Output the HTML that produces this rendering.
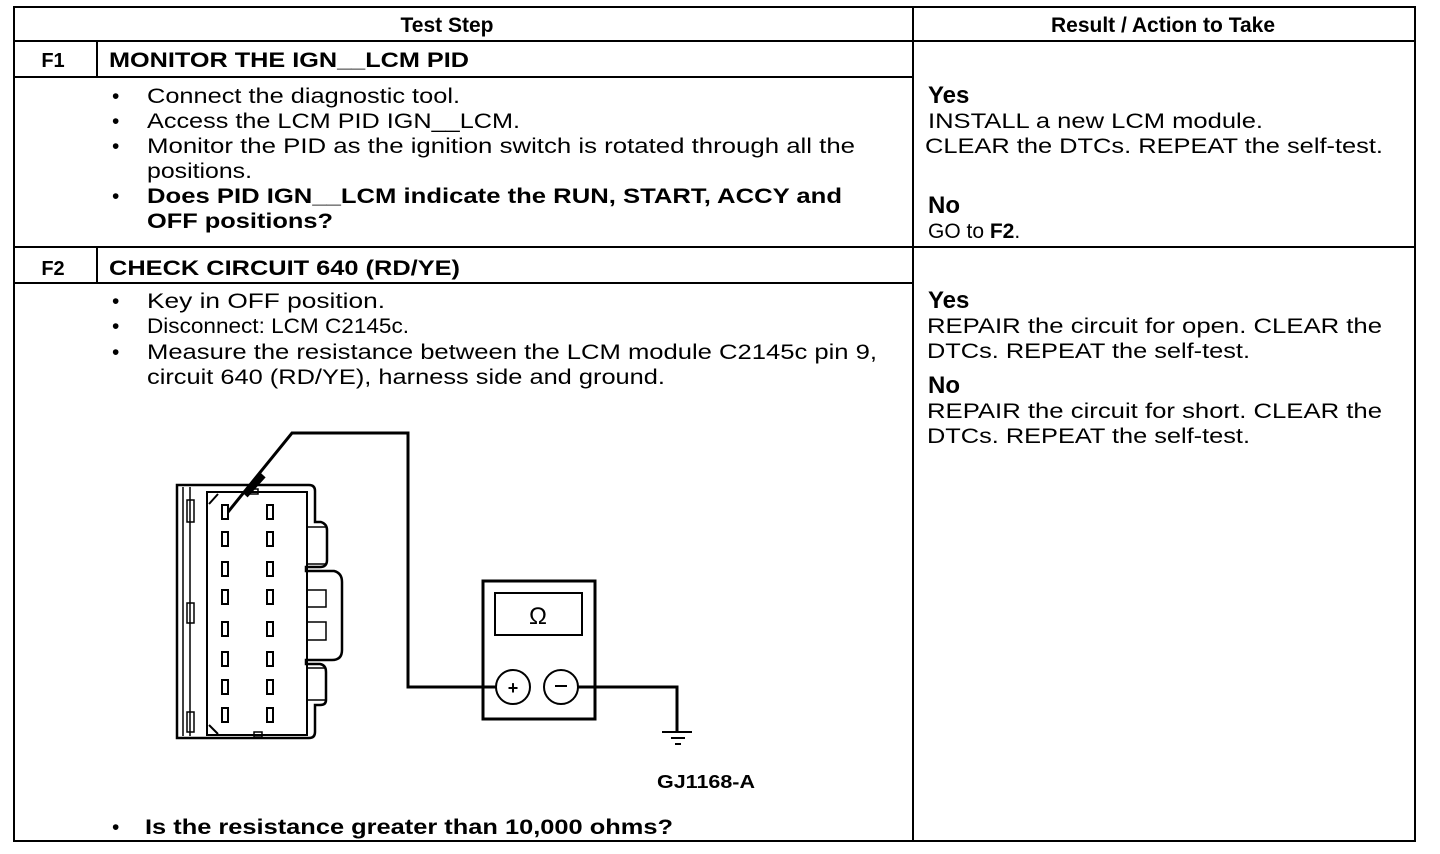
<!DOCTYPE html>
<html><head><meta charset="utf-8"><style>
html,body{margin:0;padding:0;background:#fff;}
svg{display:block;}
text{font-family:"Liberation Sans",Arial,sans-serif;fill:#000;}
.b{font-weight:bold;}
</style></head><body>
<svg width="1440" height="854" viewBox="0 0 1440 854" xmlns="http://www.w3.org/2000/svg">
<g stroke="#000" stroke-width="2" fill="none">
<rect x="14" y="7" width="1401" height="834"/>
<line x1="913" y1="7" x2="913" y2="841"/>
<line x1="14" y1="41" x2="1415" y2="41"/>
<line x1="14" y1="77" x2="913" y2="77"/>
<line x1="97" y1="41" x2="97" y2="77"/>
<line x1="14" y1="247" x2="1415" y2="247"/>
<line x1="14" y1="283" x2="913" y2="283"/>
<line x1="97" y1="247" x2="97" y2="283"/>
</g>
<text x="447" y="32" font-size="21" class="b" text-anchor="middle">Test Step</text>
<text x="1163" y="32" font-size="21" class="b" text-anchor="middle">Result / Action to Take</text>
<text x="53" y="67" font-size="20" class="b" text-anchor="middle">F1</text>
<text x="109" y="67" font-size="21" class="b" textLength="360" lengthAdjust="spacingAndGlyphs">MONITOR THE IGN__LCM PID</text>
<g font-size="21">
<text x="112" y="103">•</text><text x="147" y="103" textLength="313" lengthAdjust="spacingAndGlyphs">Connect the diagnostic tool.</text>
<text x="112" y="128">•</text><text x="147" y="128" textLength="373" lengthAdjust="spacingAndGlyphs">Access the LCM PID IGN__LCM.</text>
<text x="112" y="153">•</text><text x="147" y="153" textLength="708" lengthAdjust="spacingAndGlyphs">Monitor the PID as the ignition switch is rotated through all the</text>
<text x="147" y="178" textLength="105" lengthAdjust="spacingAndGlyphs">positions.</text>
<text x="112" y="203">•</text><text x="147" y="203" class="b" textLength="695" lengthAdjust="spacingAndGlyphs">Does PID IGN__LCM indicate the RUN, START, ACCY and</text>
<text x="147" y="228" class="b" textLength="186" lengthAdjust="spacingAndGlyphs">OFF positions?</text>
</g>
<text x="928" y="103" font-size="24" class="b">Yes</text>
<text x="928" y="128" font-size="21" textLength="335" lengthAdjust="spacingAndGlyphs">INSTALL a new LCM module.</text>
<text x="925" y="153" font-size="21" textLength="458" lengthAdjust="spacingAndGlyphs">CLEAR the DTCs. REPEAT the self-test.</text>
<text x="928" y="213" font-size="24" class="b">No</text>
<text x="928" y="238" font-size="21">GO to <tspan class="b">F2</tspan>.</text>

<text x="53" y="275" font-size="20" class="b" text-anchor="middle">F2</text>
<text x="109" y="275" font-size="21" class="b" textLength="351" lengthAdjust="spacingAndGlyphs">CHECK CIRCUIT 640 (RD/YE)</text>
<g font-size="21">
<text x="112" y="308">•</text><text x="147" y="308" textLength="238" lengthAdjust="spacingAndGlyphs">Key in OFF position.</text>
<text x="112" y="333">•</text><text x="147" y="333" textLength="262" lengthAdjust="spacingAndGlyphs">Disconnect: LCM C2145c.</text>
<text x="112" y="359">•</text><text x="147" y="359" textLength="730" lengthAdjust="spacingAndGlyphs">Measure the resistance between the LCM module C2145c pin 9,</text>
<text x="147" y="384" textLength="518" lengthAdjust="spacingAndGlyphs">circuit 640 (RD/YE), harness side and ground.</text>
<text x="112" y="834">•</text><text x="145" y="834" class="b" textLength="528" lengthAdjust="spacingAndGlyphs">Is the resistance greater than 10,000 ohms?</text>
</g>
<text x="928" y="308" font-size="24" class="b">Yes</text>
<text x="927" y="333" font-size="21" textLength="455" lengthAdjust="spacingAndGlyphs">REPAIR the circuit for open. CLEAR the</text>
<text x="927" y="358" font-size="21" textLength="323" lengthAdjust="spacingAndGlyphs">DTCs. REPEAT the self-test.</text>
<text x="928" y="393" font-size="24" class="b">No</text>
<text x="927" y="418" font-size="21" textLength="455" lengthAdjust="spacingAndGlyphs">REPAIR the circuit for short. CLEAR the</text>
<text x="927" y="443" font-size="21" textLength="323" lengthAdjust="spacingAndGlyphs">DTCs. REPEAT the self-test.</text>
<text x="657" y="788" font-size="18" class="b" textLength="98" lengthAdjust="spacingAndGlyphs">GJ1168-A</text>

<!-- connector -->
<g stroke="#000" fill="none" stroke-width="2.5">
<path d="M177,485 L309,485 Q315,485 315,491 L315,522 L321,522 Q327,524 327,530 L327,560 Q327,567 320,567 L306,567 L306,571 L334,571 Q342,573 342,582 L342,650 Q342,660 332,660 L306,660 L306,664 L320,664 Q326,665 326,672 L326,700 Q326,705 320,705 L315,705 L315,732 Q315,738 309,738 L177,738 Z"/>
<rect x="207" y="492" width="100" height="243" stroke-width="2"/>
<line x1="183" y1="487" x2="183" y2="736" stroke-width="1.5"/>
<line x1="190" y1="487" x2="190" y2="736" stroke-width="1.5"/>
<rect x="187" y="500" width="7" height="22" stroke-width="1.5"/>
<rect x="187" y="603" width="7" height="20" stroke-width="1.5"/>
<rect x="187" y="712" width="7" height="20" stroke-width="1.5"/>
<path d="M307,527 L327,527 M307,564 L327,564 M307,668 L326,668 M307,700 L326,700 M306,590 L326,590 L326,607 L306,607 M306,622 L326,622 L326,640 L306,640" stroke-width="1.5"/>
<rect x="250" y="489" width="8" height="5" stroke-width="1.5"/>
<rect x="254" y="732" width="8" height="5" stroke-width="1.5"/>
<path d="M209,504 L218,494 M209,725 L218,734" stroke-width="2"/>
</g>
<g stroke="#000" fill="none" stroke-width="2">
<rect x="222" y="505" width="6" height="14"/><rect x="267" y="505" width="6" height="14"/>
<rect x="222" y="532" width="6" height="14"/><rect x="267" y="532" width="6" height="14"/>
<rect x="222" y="562" width="6" height="14"/><rect x="267" y="562" width="6" height="14"/>
<rect x="222" y="590" width="6" height="14"/><rect x="267" y="590" width="6" height="14"/>
<rect x="222" y="622" width="6" height="14"/><rect x="267" y="622" width="6" height="14"/>
<rect x="222" y="652" width="6" height="14"/><rect x="267" y="652" width="6" height="14"/>
<rect x="222" y="680" width="6" height="14"/><rect x="267" y="680" width="6" height="14"/>
<rect x="222" y="708" width="6" height="14"/><rect x="267" y="708" width="6" height="14"/>
</g>
<!-- probe and wires -->
<g stroke="#000" fill="none" stroke-width="3">
<path d="M228,512 L292,433 L408,433 L408,687 L496,687"/>
<line x1="245" y1="495" x2="263" y2="475" stroke-width="7"/>
<rect x="483" y="581" width="112" height="138" stroke-width="3"/>
<rect x="495" y="593" width="87" height="42" stroke-width="2"/>
<circle cx="513" cy="687" r="17" stroke-width="2"/>
<circle cx="561" cy="687" r="17" stroke-width="2"/>
<path d="M578,687 L677,687 L677,732"/>
<line x1="662" y1="732" x2="692" y2="732" stroke-width="2"/>
<line x1="671" y1="738" x2="685" y2="738" stroke-width="2"/>
<line x1="675" y1="744" x2="681" y2="744" stroke-width="2"/>
</g>
<text x="538" y="624" font-size="24" text-anchor="middle" font-family="Liberation Serif,serif">Ω</text>
<text x="513" y="694" font-size="18" class="b" text-anchor="middle">+</text>
<line x1="555" y1="686" x2="567" y2="686" stroke="#000" stroke-width="2"/>
</svg>
</body></html>
